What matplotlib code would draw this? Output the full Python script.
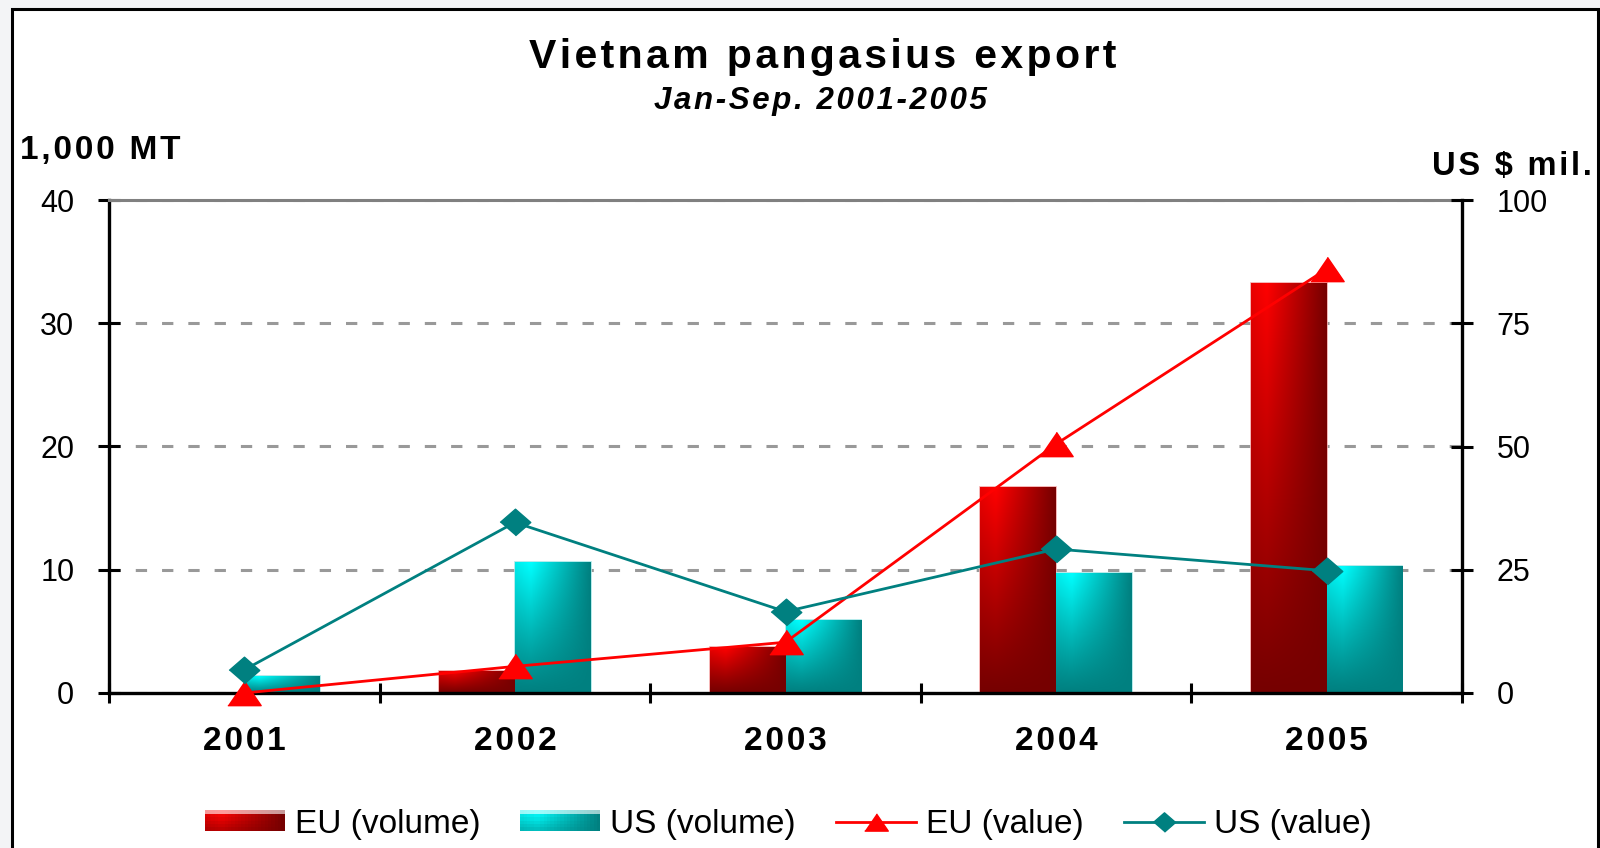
import numpy as np
import matplotlib
matplotlib.use('Agg')
import matplotlib.pyplot as plt
from matplotlib.patches import Rectangle, Patch
from matplotlib.lines import Line2D
from matplotlib.legend_handler import HandlerBase
from matplotlib.ticker import NullFormatter

# --- Data
years = ['2001', '2002', '2003', '2004', '2005']
eu_volume = [0.0, 1.8, 3.7, 16.7, 33.3]      # 1,000 MT
us_volume = [1.35, 10.6, 5.9, 9.7, 10.3]     # 1,000 MT
eu_value = [0.0, 5.4, 10.3, 50.5, 86.0]      # US$ mil.
us_value = [4.7, 34.6, 16.5, 29.2, 24.8]     # US$ mil.
left_ticks = [0, 10, 20, 30, 40]
right_ticks = [0, 25, 50, 75, 100]

plt.rcParams['font.family'] = ['Liberation Sans', 'DejaVu Sans']

RED_HI = np.array([255, 0, 0]) / 255
RED_LO = np.array([118, 0, 0]) / 255
CYAN_HI = np.array([0, 255, 255]) / 255
CYAN_LO = np.array([0, 128, 128]) / 255
HAIR = '\u200a'


def gradient(hi, lo, nx=40, ny=80):
    u, v = np.meshgrid(np.linspace(0, 1, nx), np.linspace(0, 1, ny))
    h = np.where(u >= 0.2, 1 - (u - 0.2) / 0.8, 1 - (0.2 - u) / 0.2 * 0.15)
    b = np.clip(h * (1 - v) ** 1.1, 0, 1)[..., None]
    return lo + (hi - lo) * b


class GradientHandler(HandlerBase):
    def __init__(self, hi, lo):
        super().__init__()
        self.hi, self.lo = hi, lo

    def create_artists(self, legend, orig_handle, xdescent, ydescent,
                       width, height, fontsize, trans):
        nx, ny = 24, 6
        cols = gradient(self.hi, self.lo, nx, ny * 2)[:ny]
        cols[0] = cols[0] + (1 - cols[0]) * 0.6   # light top rim
        arts = []
        for i in range(ny):
            for j in range(nx):
                arts.append(Rectangle(
                    (-xdescent + j * width / nx, -ydescent + height - (i + 1) * height / ny),
                    width / nx * 1.05, height / ny * 1.05,
                    fc=cols[i, j], ec='none', transform=trans))
        return arts


def spaced(s, sp=HAIR):
    return sp.join(s)


tri = [(-1, -0.73), (1, -0.73), (0, 0.73)]
dia = [(-1, 0), (0, 0.87), (1, 0), (0, -0.87)]

# --- Figure
fig = plt.figure(figsize=(16, 8.48), dpi=100)
fig.patch.set_facecolor('#f3f4f6')
fig.patches.append(Rectangle((12 / 1600, -0.05), (1598 - 12) / 1600, 1 - 9 / 848 + 0.05,
                             transform=fig.transFigure, fc='white', ec='black',
                             lw=2.2, zorder=-10))

ax = fig.add_axes([109 / 1600, 1 - 693 / 848, (1462 - 109) / 1600, (693 - 200) / 848])
ax.set_facecolor('white')
x = np.arange(len(years))
w = 0.28

eu_bars = ax.bar(x - w / 2, eu_volume, w, facecolor='none', edgecolor='#f4a8a8', lw=1.2)
us_bars = ax.bar(x + w / 2, us_volume, w, facecolor='none', edgecolor='#a8e8e8', lw=1.2)

for bars, hi, lo in [(eu_bars, RED_HI, RED_LO), (us_bars, CYAN_HI, CYAN_LO)]:
    for p in bars.patches:
        if p.get_height() <= 0:
            continue
        x0, y0 = p.get_x(), p.get_y()
        im = ax.imshow(gradient(hi, lo), extent=[x0, x0 + p.get_width(), y0, y0 + p.get_height()],
                       aspect='auto', zorder=1.5, interpolation='bilinear')
        im.set_clip_path(p)

ax.set_aspect('auto')
ax.set_xlim(-0.5, 4.5)
ax.set_ylim(0, 40)
ax.set_axisbelow(True)
ax.yaxis.grid(True, color='#999999', ls=(0, (3.7, 4.9)), lw=2.2)

ax.set_xticks(np.arange(-0.5, 5, 1))
ax.xaxis.set_major_formatter(NullFormatter())
ax.set_xticks(x, [spaced(y) for y in years], minor=True, fontsize=24, fontweight='bold')
ax.tick_params(axis='x', which='major', direction='inout', length=14, width=2.2)
ax.tick_params(axis='x', which='minor', length=0, pad=24)
ax.set_yticks(left_ticks)
ax.tick_params(axis='y', direction='inout', length=16, width=2.2, pad=17, labelsize=22)

ax.spines['right'].set_visible(False)
ax.spines['top'].set_color('#808080')
ax.spines['top'].set_linewidth(2.2)
for s in ['left', 'bottom']:
    ax.spines[s].set_linewidth(2.4)

ax2 = ax.twinx()
ax2.set_ylim(0, 100)
ax2.set_yticks(right_ticks)
ax2.tick_params(axis='y', direction='inout', length=16, width=2.2, pad=17, labelsize=22)
for s in ['left', 'bottom', 'top']:
    ax2.spines[s].set_visible(False)
ax2.spines['right'].set_linewidth(2.4)

ax2.plot(x, eu_value, color='#ff0000', lw=2, marker=tri, ms=24, clip_on=False, zorder=3)
ax2.plot(x, us_value, color='#008080', lw=2, marker=dia, ms=22, clip_on=False, zorder=3)

# --- Texts
fig.text(823 / 1600, 1 - 57 / 848, spaced('Vietnam pangasius export'),
         fontsize=29.5, fontweight='bold', ha='center', va='center')
fig.text(820 / 1600, 1 - 101 / 848, spaced('Jan-Sep. 2001-2005'),
         fontsize=22.5, fontweight='bold', style='italic', ha='center', va='center')
fig.text(20 / 1600, 1 - 150 / 848, spaced('1,000 MT'), fontsize=24, fontweight='bold',
         ha='left', va='center')
fig.text(1592 / 1600, 1 - 167 / 848, spaced('US $ mil.'), fontsize=23.5, fontweight='bold',
         ha='right', va='center')

# --- Legend
eu_patch = Patch(label='EU (volume)')
us_patch = Patch(label='US (volume)')
handles = [
    eu_patch,
    us_patch,
    Line2D([], [], color='#ff0000', lw=2, marker=tri, ms=17),
    Line2D([], [], color='#008080', lw=2, marker=dia, ms=16),
]
labels = ['EU (volume)', 'US (volume)', 'EU (value)', 'US (value)']
fig.legend(handles, labels, ncol=4, loc='center', bbox_to_anchor=(788 / 1600, 1 - 824 / 848),
           frameon=False, fontsize=24, handlelength=2.4, handleheight=0.55,
           handletextpad=0.3, columnspacing=1.2, borderpad=0,
           handler_map={eu_patch: GradientHandler(RED_HI, RED_LO),
                        us_patch: GradientHandler(CYAN_HI, CYAN_LO)})

fig.savefig('out.png', dpi=100, facecolor=fig.get_facecolor())
